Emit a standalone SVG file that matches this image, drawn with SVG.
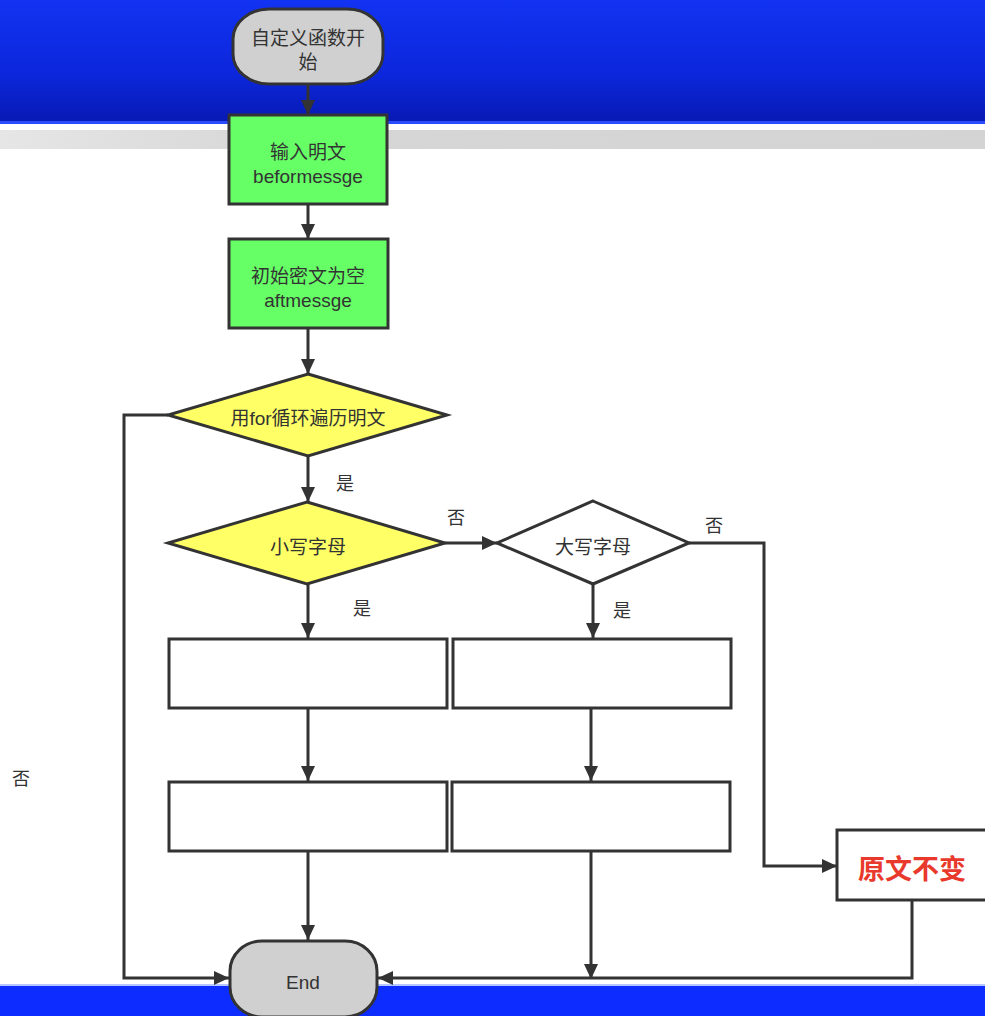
<svg xmlns="http://www.w3.org/2000/svg" width="985" height="1016" viewBox="0 0 985 1016">
<defs>
<linearGradient id="topBlue" x1="0" y1="0" x2="0" y2="1">
<stop offset="0" stop-color="#1233f2"/>
<stop offset="0.6" stop-color="#0c27dc"/>
<stop offset="1" stop-color="#081ab4"/>
</linearGradient>
<linearGradient id="greyBand" x1="0" y1="0" x2="1" y2="0">
<stop offset="0" stop-color="#e6e6e6"/>
<stop offset="0.3" stop-color="#d6d6d6"/>
<stop offset="1" stop-color="#d4d4d4"/>
</linearGradient>
<marker id="arr" markerUnits="userSpaceOnUse" markerWidth="16" markerHeight="14" refX="15" refY="7" orient="auto">
<path d="M0,0 L15,7 L0,14 z" fill="#333"/>
</marker>
</defs>
<style>
.node{stroke:#333;stroke-width:3}
.term{fill:#d0d0d0}
.green{fill:#66ff66}
.yellow{fill:#ffff66}
.white{fill:#ffffff}
.t{font-family:"Liberation Sans","Noto Sans CJK SC",sans-serif;font-size:19px;fill:#333;text-anchor:middle}
.lbl{font-family:"Noto Sans CJK SC",sans-serif;font-size:18px;fill:#333;text-anchor:middle}
.red{font-family:"Noto Sans CJK SC",sans-serif;font-size:27px;font-weight:bold;fill:#e8392c;text-anchor:middle}
.c{fill:none;stroke:#333;stroke-width:3;marker-end:url(#arr)}
</style>
<rect width="985" height="1016" fill="#ffffff"/>
<g id="background">
<rect x="0" y="0" width="985" height="122" fill="url(#topBlue)"/>
<rect x="0" y="121" width="985" height="3" fill="#2a4cff"/>
<rect x="0" y="130" width="985" height="19" fill="url(#greyBand)"/>
<rect x="0" y="985" width="985" height="31" fill="#0d2cff"/>
<rect x="0" y="984" width="985" height="2" fill="#b8c6ff"/>
</g>
<g id="connectors">
<path class="c" d="M308,84 V115"/>
<path class="c" d="M308,204 V239"/>
<path class="c" d="M308,328 V374"/>
<path class="c" d="M308,456 V502"/>
<path class="c" d="M445,543 H497"/>
<path class="c" d="M689,543 H764 V866 H837"/>
<path class="c" d="M308,584 V638"/>
<path class="c" d="M593,584 V638"/>
<path class="c" d="M308,708 V781"/>
<path class="c" d="M591,708 V781"/>
<path class="c" d="M308,851 V940"/>
<path class="c" d="M591,851 V979"/>
<path class="c" d="M168,415 H124 V978 H229"/>
<path class="c" d="M912,900 V978 H378"/>
<text class="lbl" x="345" y="490">是</text>
<text class="lbl" x="456" y="524">否</text>
<text class="lbl" x="714" y="532">否</text>
<text class="lbl" x="362" y="615">是</text>
<text class="lbl" x="622" y="617">是</text>
<text class="lbl" x="21" y="785">否</text>
</g>
<g id="start">
<rect class="node term" x="233" y="9" width="150" height="75" rx="36" ry="30"/>
<text class="t" x="308" y="45">自定义函数开</text>
<text class="t" x="308" y="69">始</text>
</g>
<g id="input">
<rect class="node green" x="229" y="115" width="158" height="89"/>
<text class="t" x="308" y="159">输入明文</text>
<text class="t" x="308" y="183">beformessge</text>
</g>
<g id="init">
<rect class="node green" x="229" y="239" width="159" height="89"/>
<text class="t" x="308" y="283">初始密文为空</text>
<text class="t" x="308" y="307">aftmessge</text>
</g>
<g id="loop">
<polygon class="node yellow" points="308,374 447,415 308,456 168,415"/>
<text class="t" x="308" y="425">用for循环遍历明文</text>
</g>
<g id="lower">
<polygon class="node yellow" points="307,502 445,543 307,584 168,543"/>
<text class="t" x="308" y="554">小写字母</text>
</g>
<g id="upper">
<polygon class="node white" points="593,501 689,543 593,584 497,543"/>
<text class="t" x="593" y="554">大写字母</text>
</g>
<g id="boxL1"><rect class="node white" x="169" y="639" width="278" height="69"/></g>
<g id="boxR1"><rect class="node white" x="453" y="639" width="278" height="69"/></g>
<g id="boxL2"><rect class="node white" x="169" y="782" width="278" height="69"/></g>
<g id="boxR2"><rect class="node white" x="452" y="782" width="278" height="69"/></g>
<g id="unchanged">
<rect class="node white" x="837" y="830" width="150" height="70"/>
<text class="red" x="912" y="879">原文不变</text>
</g>
<g id="end">
<rect class="node term" x="230" y="941" width="147" height="76" rx="32" ry="30"/>
<text class="t" x="303" y="989">End</text>
</g>
</svg>
